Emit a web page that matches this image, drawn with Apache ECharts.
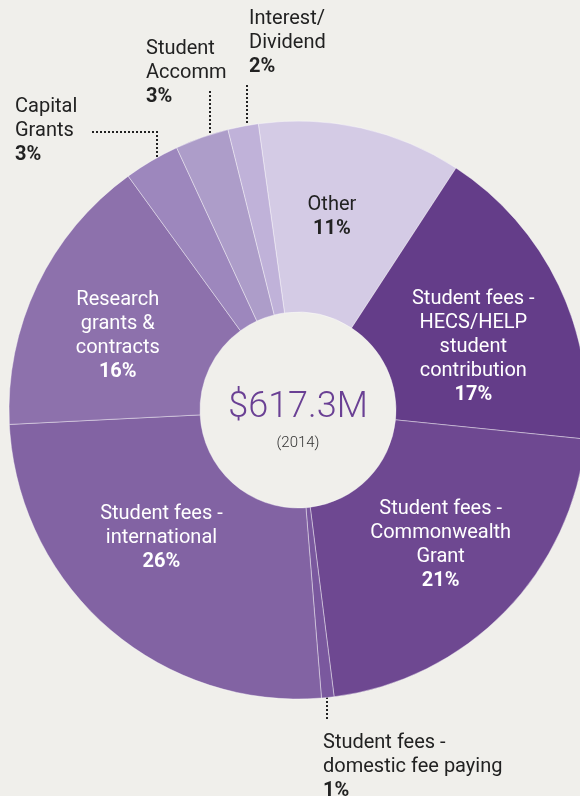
<!DOCTYPE html>
<html>
<head>
<meta charset="utf-8">
<script src="https://cdn.jsdelivr.net/npm/echarts@6/dist/echarts.min.js"></script>
<style>
  html, body { margin: 0; padding: 0; background: #f0efeb; }
  #chart { width: 580px; height: 796px; }
</style>
</head>
<body>
<div id="chart"></div>
<script>
// slices, clockwise from "Other" at the top
const categories = [
  'Other',
  'Student fees -\nHECS/HELP\nstudent\ncontribution',
  'Student fees -\nCommonwealth\nGrant',
  'Student fees -\ndomestic fee paying',
  'Student fees -\ninternational',
  'Research\ngrants &\ncontracts',
  'Capital\nGrants',
  'Student\nAccomm',
  'Interest/\nDividend'
]
// slice sizes
const values = [11.4, 17.4, 21.4, 0.7, 25.5, 15.8, 3.1, 3.0, 1.7]
// percentages as printed on the chart
const percentLabels = [11, 17, 21, 1, 26, 16, 3, 3, 2]

const totalText = '$617.3M'
const yearText = '(2014)'

const sliceColors = ['#d4cbe5', '#643d89', '#6e4891', '#7a589e', '#8263a3', '#8d71ac', '#9d87bd', '#ad9dc9', '#c0b2d9']

// offsets for labels drawn inside the ring
const insideOffsets = {
  0: [-9, -1],
  1: [-2, 22],
  2: [2, -2],
  4: [-7, -20],
  5: [-3, 11]
}

// labels outside the ring with dotted leaders
const outsideLabels = {
  3: { x: 323, y: 731, line: [[327, 697], [327, 721]] },
  6: { x: 15, y: 95, line: [[157, 157], [157, 132], [90, 132]] },
  7: { x: 146, y: 37, line: [[210, 133], [210, 90]] },
  8: { x: 249, y: 7, line: [[247, 123], [247, 85]] }
}

const chart = echarts.init(document.getElementById('chart'))

const pieData = categories.map((name, i) => {
  const outside = outsideLabels[i]
  return {
    name,
    value: values[i],
    itemStyle: { color: sliceColors[i] },
    label: outside
      ? { position: 'outside', align: 'left', color: '#222' }
      : { position: 'inside', align: 'center', color: i === 0 ? '#222' : '#fff', offset: insideOffsets[i] },
    labelLine: { show: !!outside }
  }
})

const option = {
  backgroundColor: '#f0efeb',
  animation: false,
  textStyle: { fontFamily: 'Roboto' },
  graphic: [
    {
      type: 'text',
      x: 298,
      y: 408,
      style: {
        text: totalText,
        fontFamily: 'Roboto',
        fontWeight: 300,
        fontSize: 36,
        fill: '#6a4094',
        align: 'center',
        verticalAlign: 'middle'
      }
    },
    {
      type: 'text',
      x: 298,
      y: 443,
      style: {
        text: yearText,
        fontFamily: 'Roboto',
        fontWeight: 300,
        fontSize: 15,
        fill: '#333',
        align: 'center',
        verticalAlign: 'middle'
      }
    }
  ],
  series: [
    {
      type: 'pie',
      center: [298, 410],
      radius: [98, 289],
      startAngle: 97.9,
      clockwise: true,
      avoidLabelOverlap: false,
      silent: true,
      itemStyle: {
        borderColor: 'rgba(255,255,255,0.4)',
        borderWidth: 1
      },
      label: {
        show: true,
        fontFamily: 'Roboto',
        fontSize: 20,
        lineHeight: 24,
        formatter: (p) => {
          const lines = p.name.split('\n').map(l => `{n|${l}}`)
          return lines.join('\n') + `\n{p|${percentLabels[p.dataIndex]}%}`
        },
        rich: {
          n: { fontSize: 20, lineHeight: 24, fontFamily: 'Roboto' },
          p: { fontSize: 20, lineHeight: 24, fontFamily: 'Roboto', fontWeight: 'bold' }
        }
      },
      labelLine: {
        lineStyle: { color: '#222', width: 2, type: [2, 2] }
      },
      labelLayout: (params) => {
        const o = outsideLabels[params.dataIndex]
        if (!o) return {}
        return {
          x: o.x,
          y: o.y,
          align: 'left',
          verticalAlign: 'top',
          labelLinePoints: o.line
        }
      },
      data: pieData
    }
  ]
}

chart.setOption(option)

window.addEventListener('resize', () => chart.resize())
</script>
</body>
</html>
